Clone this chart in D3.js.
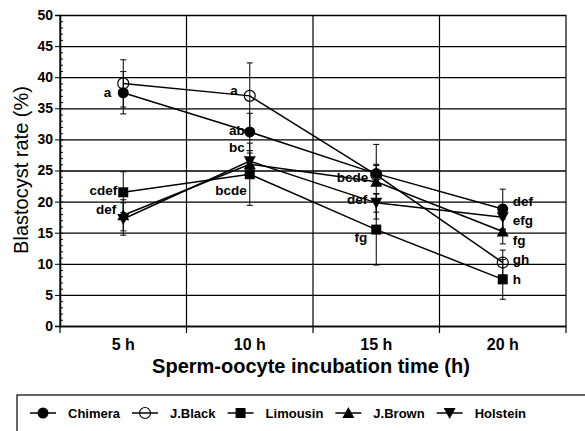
<!DOCTYPE html>
<html>
<head>
<meta charset="utf-8">
<script src="https://d3js.org/d3.v7.min.js"></script>
<style>
  body { margin: 0; background: #fff; }
  svg { font-family: "Liberation Sans", Arial, sans-serif; }
  .tick text { font-weight: bold; }
</style>
</head>
<body>
<div id="chart"></div>
<script>
// incubation times and blastocyst rates (%) for each breed
const times = ["5 h", "10 h", "15 h", "20 h"];
const seriesNames = ["Chimera", "J.Black", "Limousin", "J.Brown", "Holstein"];

const chimera  = [37.5, 31.2, 24.5, 18.8];
const jBlack   = [39.0, 37.0, 24.3, 10.2];
const limousin = [21.5, 24.4, 15.5, 7.5];
const jBrown   = [17.8, 26.0, 23.2, 15.2];
const holstein = [17.2, 26.5, 19.8, 17.5];

// error bar half-lengths
const chimeraErr  = [3.4, 3.0, 1.5, 3.2];
const jBlackErr   = [3.8, 5.3, 1.5, 2.0];
const limousinErr = [3.3, 5.0, 5.7, 3.2];
const jBrownErr   = [2.5, 1.8, 6.0, 2.0];
const holsteinErr = [2.6, 1.7, 1.5, 2.0];

// significance letters ("" = none printed)
const chimeraLab  = ["a", "ab", "bcde", "def"];
const jBlackLab   = ["", "a", "", "gh"];
const limousinLab = ["cdef", "bcde", "fg", "h"];
const jBrownLab   = ["def", "", "", "fg"];
const holsteinLab = ["", "bc", "def", "efg"];

const yTicks = [0, 5, 10, 15, 20, 25, 30, 35, 40, 45, 50];

const series = [
  {name: seriesNames[0], vals: chimera,  err: chimeraErr,  lab: chimeraLab,  sym: "circle"},
  {name: seriesNames[1], vals: jBlack,   err: jBlackErr,   lab: jBlackLab,   sym: "open"},
  {name: seriesNames[2], vals: limousin, err: limousinErr, lab: limousinLab, sym: "square"},
  {name: seriesNames[3], vals: jBrown,   err: jBrownErr,   lab: jBrownLab,   sym: "up"},
  {name: seriesNames[4], vals: holstein, err: holsteinErr, lab: holsteinLab, sym: "down"}
];

// label offsets relative to the point: [dx, dy, anchor]
const labOff = {
  "0|0": [-12, 0, "end"], "2|0": [-6, -2, "end"], "3|0": [-7, -6, "end"],
  "1|1": [-12, -6, "end"], "0|1": [-5, -2, "end"], "4|1": [-5, -14, "end"], "2|1": [-3, 16, "end"],
  "0|2": [-8, 4, "end"], "4|2": [-9, -4, "end"], "2|2": [-9, 8, "end"],
  "0|3": [10, -8, "start"], "4|3": [10, 3, "start"], "3|3": [10, 9, "start"],
  "1|3": [10, -3, "start"], "2|3": [10, 0, "start"]
};

const W = 585, H = 431;
const pL = 60, pR = 566, pT = 15, pB = 326;

const svg = d3.select("#chart").append("svg")
  .attr("width", W).attr("height", H);

const x = d3.scaleBand().domain(times).range([pL, pR]).padding(0);
const y = d3.scaleLinear().domain([0, 50]).range([pB, pT]);
const cx = d => x(d) + x.bandwidth() / 2;

// horizontal gridlines
svg.append("g")
  .attr("transform", `translate(${pL},0)`)
  .call(d3.axisLeft(y).tickValues(yTicks).tickSize(-(pR - pL)).tickFormat(""))
  .call(g => g.select(".domain").remove())
  .call(g => g.selectAll("line").attr("stroke", "#000").attr("stroke-width", 1.3));

// vertical band dividers
const bounds = times.map(t => x(t)).concat([pR]);
svg.append("g").selectAll("line")
  .data(bounds).enter().append("line")
  .attr("x1", d => d).attr("x2", d => d)
  .attr("y1", pT).attr("y2", pB + 7)
  .attr("stroke", "#000").attr("stroke-width", 1.2);

// minor ticks on y axis
svg.append("g")
  .attr("transform", `translate(${pL},0)`)
  .call(d3.axisLeft(y).tickValues(d3.range(0, 51)).tickSize(-3).tickFormat(""))
  .call(g => g.select(".domain").remove())
  .call(g => g.selectAll("line").attr("stroke", "#000"));

// y axis
svg.append("g")
  .attr("transform", `translate(${pL},0)`)
  .call(d3.axisLeft(y).tickValues(yTicks).tickSize(5).tickPadding(2).tickFormat(d3.format("d")))
  .call(g => g.select(".domain").attr("stroke-width", 1.5))
  .call(g => g.selectAll("text").attr("font-size", 14).attr("fill", "#000"));

// x axis
svg.append("g")
  .attr("transform", `translate(0,${pB})`)
  .call(d3.axisBottom(x).tickSize(0).tickPadding(13))
  .call(g => g.select(".domain").attr("stroke-width", 1.5))
  .call(g => g.selectAll("text").attr("font-size", 16).attr("fill", "#000"));

// axis titles
svg.append("text")
  .attr("transform", "translate(28,170) rotate(-90)")
  .attr("text-anchor", "middle")
  .attr("font-size", 20)
  .text("Blastocyst rate (%)");

svg.append("text")
  .attr("x", 311).attr("y", 373)
  .attr("text-anchor", "middle")
  .attr("font-size", 20).attr("font-weight", "bold")
  .text("Sperm-oocyte incubation time (h)");

// lines
const line = d3.line().x((d, i) => cx(times[i])).y(d => y(d));
svg.append("g").selectAll("path")
  .data(series).enter().append("path")
  .attr("d", s => line(s.vals))
  .attr("fill", "none").attr("stroke", "#000").attr("stroke-width", 1.5);

// error bars
series.forEach(s => {
  const g = svg.append("g").attr("stroke", "#000").attr("stroke-width", 1);
  s.vals.forEach((v, i) => {
    const px = cx(times[i]);
    const y0 = y(v - s.err[i]), y1 = y(v + s.err[i]);
    g.append("line").attr("x1", px).attr("x2", px).attr("y1", y0).attr("y2", y1);
    g.append("line").attr("x1", px - 3).attr("x2", px + 3).attr("y1", y0).attr("y2", y0);
    g.append("line").attr("x1", px - 3).attr("x2", px + 3).attr("y1", y1).attr("y2", y1);
  });
});

// markers
function drawSym(g, sym, px, py) {
  if (sym === "circle") {
    g.append("circle").attr("cx", px).attr("cy", py).attr("r", 5.5).attr("fill", "#000");
  } else if (sym === "open") {
    g.append("circle").attr("cx", px).attr("cy", py).attr("r", 5.5)
      .attr("fill", "none").attr("stroke", "#000").attr("stroke-width", 1.2);
  } else if (sym === "square") {
    g.append("rect").attr("x", px - 5).attr("y", py - 5).attr("width", 10).attr("height", 10).attr("fill", "#000");
  } else if (sym === "up") {
    g.append("path").attr("d", `M${px},${py - 6}L${px + 6},${py + 5}L${px - 6},${py + 5}Z`).attr("fill", "#000");
  } else {
    g.append("path").attr("d", `M${px},${py + 6}L${px + 6},${py - 5}L${px - 6},${py - 5}Z`).attr("fill", "#000");
  }
}

const mk = svg.append("g");
series.forEach(s => s.vals.forEach((v, i) => drawSym(mk, s.sym, cx(times[i]), y(v))));

// significance letters
const lg = svg.append("g").attr("font-size", 13.5).attr("font-weight", "bold");
series.forEach((s, si) => s.lab.forEach((t, i) => {
  if (!t) return;
  const o = labOff[si + "|" + i];
  lg.append("text")
    .attr("x", cx(times[i]) + o[0]).attr("y", y(s.vals[i]) + o[1])
    .attr("dy", "0.35em").attr("text-anchor", o[2])
    .text(t);
}));

// legend (items flow left to right)
svg.append("rect")
  .attr("x", 17).attr("y", 395).attr("width", 580).attr("height", 50)
  .attr("fill", "none").attr("stroke", "#000").attr("stroke-width", 1.2);

const leg = svg.append("g");
let lx = 30;
const ly = 413;
series.forEach(s => {
  leg.append("line").attr("x1", lx).attr("x2", lx + 26).attr("y1", ly).attr("y2", ly)
    .attr("stroke", "#000").attr("stroke-width", 1.5);
  drawSym(leg.append("g"), s.sym, lx + 13, ly);
  const t = leg.append("text")
    .attr("x", lx + 38).attr("y", ly).attr("dy", "0.35em")
    .attr("font-size", 13).attr("font-weight", "bold")
    .text(s.name);
  lx = lx + 38 + t.node().getComputedTextLength() + 12;
});
</script>
</body>
</html>
